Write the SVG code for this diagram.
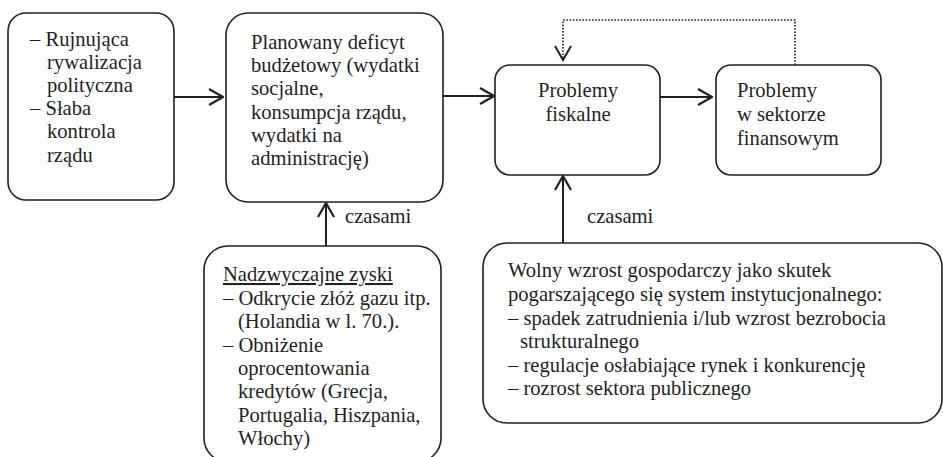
<svg xmlns="http://www.w3.org/2000/svg" width="943" height="457" viewBox="0 0 943 457">
<style>
.box{fill:#fff;stroke:#231f20;stroke-width:1.6}
.t{font-family:'Liberation Serif','Times New Roman',serif;font-size:20.6px;fill:#231f20}
.c{stroke:#231f20;stroke-width:2;fill:none}
.d{stroke:#231f20;stroke-width:1.6;fill:none;stroke-dasharray:1.6 1.6}
</style>
<defs>
<marker id="ah" viewBox="0 0 16 18" refX="15" refY="9" markerWidth="16" markerHeight="18" markerUnits="userSpaceOnUse" orient="auto">
<path d="M1,1 L15,9 L1,17" fill="none" stroke="#231f20" stroke-width="2.2"/>
</marker>
</defs>
<rect width="943" height="457" fill="#fff"/>
<g id="connectors">
<path class="c" d="M174,97 H223" marker-end="url(#ah)"/>
<path class="c" d="M443,96 H494" marker-end="url(#ah)"/>
<path class="c" d="M660,97 H712" marker-end="url(#ah)"/>
<path class="d" d="M795,65 V20 H563 V59"/>
<path d="M555,46 L563,60 L571,46" fill="none" stroke="#231f20" stroke-width="2"/>
<path class="c" d="M326,246 V203" marker-end="url(#ah)"/>
<path class="c" d="M563,243 V176" marker-end="url(#ah)"/>
<text class="t" x="345" y="223">czasami</text>
<text class="t" x="587" y="223">czasami</text>
</g>
<g id="n1">
<rect class="box" x="8" y="13" width="166" height="187" rx="18"/>
<text class="t"><tspan x="30" y="46">– Rujnująca</tspan><tspan x="47" y="69">rywalizacja</tspan><tspan x="47" y="92">polityczna</tspan><tspan x="30" y="115">– Słaba</tspan><tspan x="47" y="138">kontrola</tspan><tspan x="47" y="162">rządu</tspan></text>
</g>
<g id="n2">
<rect class="box" x="226" y="13" width="217" height="189" rx="22"/>
<text class="t"><tspan x="251" y="49">Planowany deficyt</tspan><tspan x="251" y="72">budżetowy (wydatki</tspan><tspan x="251" y="95">socjalne,</tspan><tspan x="251" y="118.5">konsumpcja rządu,</tspan><tspan x="251" y="141.5">wydatki na</tspan><tspan x="251" y="165">administrację)</tspan></text>
</g>
<g id="n3">
<rect class="box" x="495" y="65" width="165" height="110" rx="15"/>
<text class="t" text-anchor="middle"><tspan x="578" y="97">Problemy</tspan><tspan x="578" y="121">fiskalne</tspan></text>
</g>
<g id="n4">
<rect class="box" x="716" y="65" width="165" height="110" rx="15"/>
<text class="t"><tspan x="737" y="97">Problemy</tspan><tspan x="737" y="121">w sektorze</tspan><tspan x="737" y="145">finansowym</tspan></text>
</g>
<g id="n5">
<rect class="box" x="204" y="246" width="237" height="216" rx="24"/>
<text class="t"><tspan x="223" y="281" text-decoration="underline">Nadzwyczajne zyski</tspan><tspan x="223" y="305">– Odkrycie złóż gazu itp.</tspan><tspan x="238" y="328">(Holandia w l. 70.).</tspan><tspan x="223" y="352">– Obniżenie</tspan><tspan x="238" y="375">oprocentowania</tspan><tspan x="238" y="398">kredytów (Grecja,</tspan><tspan x="238" y="422">Portugalia, Hiszpania,</tspan><tspan x="238" y="445">Włochy)</tspan></text>
</g>
<g id="n6">
<rect class="box" x="483" y="243" width="459" height="180" rx="24"/>
<text class="t"><tspan x="508" y="277">Wolny wzrost gospodarczy jako skutek</tspan><tspan x="508" y="301">pogarszającego się system instytucjonalnego:</tspan><tspan x="508" y="325">– spadek zatrudnienia i/lub wzrost bezrobocia</tspan><tspan x="520" y="348">strukturalnego</tspan><tspan x="508" y="372">– regulacje osłabiające rynek i konkurencję</tspan><tspan x="508" y="395">– rozrost sektora publicznego</tspan></text>
</g>
</svg>
